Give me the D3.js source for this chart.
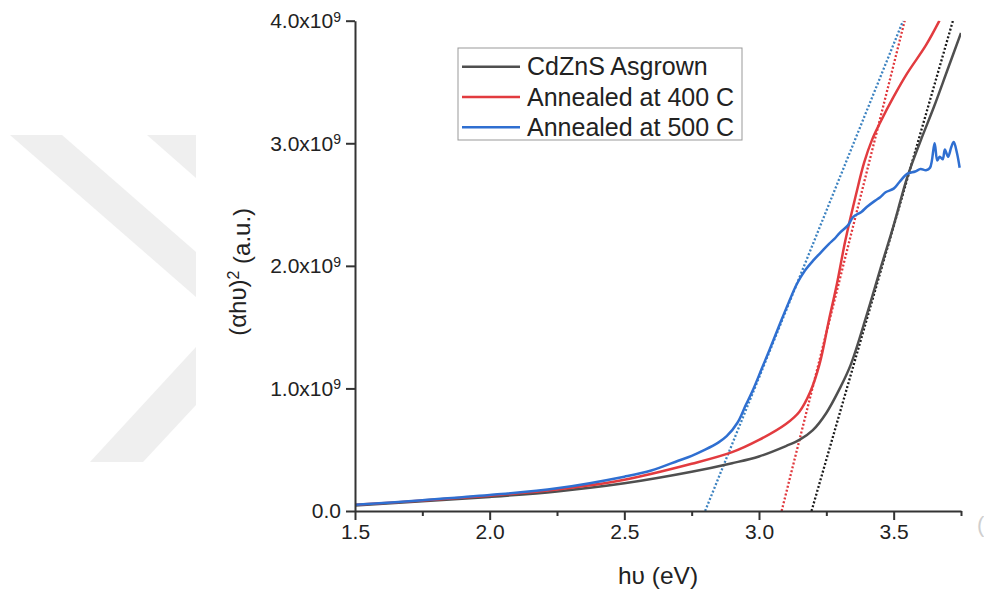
<!DOCTYPE html>
<html>
<head>
<meta charset="utf-8">
<script src="https://cdn.jsdelivr.net/npm/d3@7"></script>
<style>
body { margin: 0; background: #fff; }
svg text { font-family: "Liberation Sans", Arial, sans-serif; fill: #222; }
</style>
</head>
<body>
<div id="chart"></div>
<script>
// photon energy (eV) and (αhυ)^2
const asgrownX = [1.5, 1.75, 2.0, 2.25, 2.5, 2.75, 2.9, 3.0, 3.1, 3.15, 3.2, 3.25, 3.3, 3.34, 3.4, 3.45, 3.5, 3.55, 3.6, 3.65, 3.7, 3.75];
const asgrownY = [0.045e9, 0.08e9, 0.115e9, 0.16e9, 0.226e9, 0.32e9, 0.39e9, 0.445e9, 0.53e9, 0.58e9, 0.66e9, 0.8e9, 1.0e9, 1.19e9, 1.6e9, 1.97e9, 2.33e9, 2.72e9, 3.02e9, 3.3e9, 3.6e9, 3.9e9];

const ann400X = [1.5, 1.75, 2.0, 2.25, 2.5, 2.75, 2.9, 3.0, 3.1, 3.15, 3.19, 3.225, 3.26, 3.29, 3.32, 3.36, 3.39, 3.42, 3.45, 3.5, 3.55, 3.62, 3.67];
const ann400Y = [0.05e9, 0.085e9, 0.125e9, 0.175e9, 0.255e9, 0.385e9, 0.48e9, 0.58e9, 0.71e9, 0.81e9, 0.97e9, 1.2e9, 1.56e9, 1.86e9, 2.2e9, 2.58e9, 2.84e9, 3.03e9, 3.17e9, 3.38e9, 3.57e9, 3.8e9, 4.0e9];

const ann500X = [1.5, 1.75, 2.0, 2.25, 2.5, 2.6, 2.7, 2.75, 2.8, 2.85, 2.88, 2.92, 2.95, 2.98, 3.01, 3.04, 3.08, 3.11, 3.14, 3.17, 3.2, 3.23, 3.26, 3.28, 3.3, 3.33, 3.35, 3.38, 3.4, 3.43, 3.45, 3.47, 3.5, 3.52, 3.55, 3.58, 3.6, 3.62, 3.635, 3.652, 3.662, 3.671, 3.682, 3.69, 3.702, 3.714, 3.723, 3.735, 3.745];
const ann500Y = [0.05e9, 0.088e9, 0.13e9, 0.185e9, 0.28e9, 0.33e9, 0.41e9, 0.45e9, 0.5e9, 0.56e9, 0.61e9, 0.72e9, 0.86e9, 1.0e9, 1.16e9, 1.32e9, 1.54e9, 1.70e9, 1.85e9, 1.96e9, 2.04e9, 2.11e9, 2.18e9, 2.22e9, 2.27e9, 2.33e9, 2.40e9, 2.44e9, 2.48e9, 2.53e9, 2.56e9, 2.6e9, 2.63e9, 2.68e9, 2.75e9, 2.77e9, 2.79e9, 2.78e9, 2.8e9, 3.0e9, 2.86e9, 2.89e9, 2.87e9, 2.95e9, 2.89e9, 2.97e9, 3.01e9, 2.92e9, 2.8e9];

// Tauc fit lines: [x, y] end points
const fitAsgrown = [[3.195, 0], [3.72, 4.0e9]];
const fit400 = [[3.084, 0], [3.541, 4.0e9]];
const fit500 = [[2.80, 0], [3.535, 4.0e9]];

const seriesNames = ["CdZnS Asgrown", "Annealed at 400 C", "Annealed at 500 C"];
const xTicks = [1.5, 2.0, 2.5, 3.0, 3.5];
const xMinorTicks = [1.75, 2.25, 2.75, 3.25, 3.75];
const yTicks = [0, 1e9, 2e9, 3e9, 4e9];

const colors = ["#4f4f4f", "#e23b3f", "#2f6fd1"];
const fitColors = ["#1a1a1a", "#e0373c", "#3c82c0"];

const width = 984, height = 594;

const svg = d3.select("#chart").append("svg")
	.attr("width", width).attr("height", height);

// faint watermark on the left
const mark = [
	[[10, 135], [62, 135], [196, 252], [196, 297]],
	[[147, 135], [196, 135], [196, 178]],
	[[90, 462], [143, 462], [196, 405], [196, 347]]
];
svg.selectAll("polygon.mark").data(mark).join("polygon")
	.attr("class", "mark")
	.attr("points", d => d.map(p => p.join(",")).join(" "))
	.attr("fill", "#efefef");

const x = d3.scaleLinear().domain([1.5, 3.75]).range([355, 961]);
const y = d3.scaleLinear().domain([0, 4e9]).range([511, 20.7]);

svg.append("clipPath").attr("id", "plotclip")
	.append("rect")
	.attr("x", x(1.5)).attr("y", y(4e9))
	.attr("width", x(3.75) - x(1.5)).attr("height", y(0) - y(4e9));

const plot = svg.append("g").attr("clip-path", "url(#plotclip)");

// fit lines
const fits = [fitAsgrown, fit400, fit500];
plot.selectAll("line.fit").data(fits).join("line")
	.attr("class", "fit")
	.attr("x1", d => x(d[0][0])).attr("y1", d => y(d[0][1]))
	.attr("x2", d => x(d[1][0])).attr("y2", d => y(d[1][1]))
	.attr("stroke", (d, i) => fitColors[i])
	.attr("stroke-width", 2.3)
	.attr("stroke-dasharray", "2,2");

// curves
const series = [
	d3.zip(asgrownX, asgrownY),
	d3.zip(ann400X, ann400Y),
	d3.zip(ann500X, ann500Y)
];
const line = d3.line()
	.x(d => x(d[0])).y(d => y(d[1]))
	.curve(d3.curveCatmullRom.alpha(0.5));

plot.selectAll("path.curve").data(series).join("path")
	.attr("class", "curve")
	.attr("d", line)
	.attr("fill", "none")
	.attr("stroke", (d, i) => colors[i])
	.attr("stroke-width", 2.5)
	.attr("stroke-linejoin", "round");

// axes
svg.append("g")
	.attr("transform", `translate(0,${y(0)})`)
	.call(d3.axisBottom(x).tickValues(xTicks).tickSize(9).tickPadding(4)
		.tickSizeOuter(0).tickFormat(d3.format(".1f")));

svg.append("g")
	.attr("transform", `translate(0,${y(0)})`)
	.call(d3.axisBottom(x).tickValues(xMinorTicks).tickSize(5).tickFormat(""))
	.call(g => g.select(".domain").remove());

const yAxis = svg.append("g")
	.attr("transform", `translate(${x(1.5)},0)`)
	.call(d3.axisLeft(y).tickValues(yTicks).tickSize(9).tickPadding(5).tickSizeOuter(0));

yAxis.selectAll(".tick text").each(function(d) {
	const t = d3.select(this).text(null);
	if (d === 0) { t.text("0.0"); return; }
	t.append("tspan").text((d / 1e9).toFixed(1) + "x10");
	t.append("tspan").attr("dy", "-0.45em").attr("font-size", 14).text("9");
});

svg.selectAll(".domain, .tick line")
	.attr("stroke", "#333").attr("stroke-width", 2);
svg.selectAll(".tick text")
	.attr("font-size", 21).attr("fill", "#222");

// axis titles
svg.append("text")
	.attr("x", (x(1.5) + x(3.75)) / 2).attr("y", 584)
	.attr("text-anchor", "middle").attr("font-size", 24.5)
	.text("h\u03c5 (eV)");

const yt = svg.append("text")
	.attr("transform", `translate(246,${(y(0) + y(4e9)) / 2 + 6}) rotate(-90)`)
	.attr("text-anchor", "middle").attr("font-size", 24);
yt.append("tspan").text("(\u03b1h\u03c5)");
yt.append("tspan").attr("dy", "-0.45em").attr("font-size", 16).text("2");
yt.append("tspan").attr("dy", "0.45em").text(" (a.u.)");

// legend
const legend = svg.append("g").attr("transform", "translate(458,48)");
legend.append("rect")
	.attr("width", 284).attr("height", 92)
	.attr("fill", "#fff").attr("stroke", "#999").attr("stroke-width", 1);
const rows = legend.selectAll("g.row").data(seriesNames).join("g")
	.attr("class", "row")
	.attr("transform", (d, i) => `translate(0,${18.7 + i * 30.3})`);
rows.append("line")
	.attr("x1", 4).attr("x2", 62)
	.attr("stroke", (d, i) => colors[i]).attr("stroke-width", 2.5);
rows.append("text")
	.attr("x", 69).attr("dy", "0.35em")
	.attr("font-size", 25)
	.text(d => d);

// clipped glyph at right edge
svg.append("text")
	.attr("x", 977).attr("y", 532).attr("font-size", 22)
	.style("fill", "#cfcfcf").text("(");
</script>
</body>
</html>
